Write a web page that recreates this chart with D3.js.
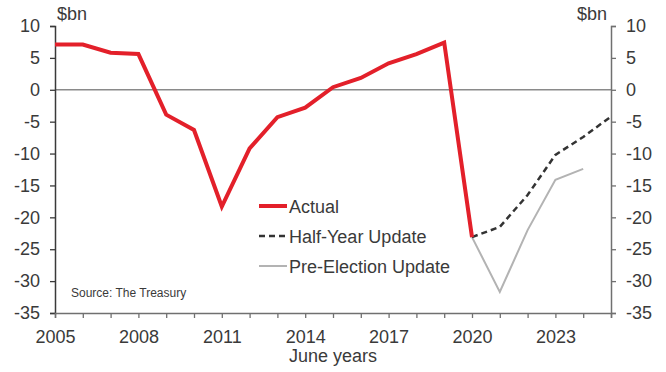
<!DOCTYPE html>
<html><head><meta charset="utf-8">
<script src="https://cdn.jsdelivr.net/npm/d3@7"></script>
<style>body{margin:0;background:#fff}svg{display:block}text{font-family:"Liberation Sans",Arial,sans-serif;fill:#3a3a3a}</style>
</head><body><svg id="c" width="666" height="372"></svg>
<script>
const actualYears = [2005,2006,2007,2008,2009,2010,2011,2012,2013,2014,2015,2016,2017,2018,2019,2020];
const actualValues = [7.1,7.1,5.8,5.6,-3.9,-6.3,-18.3,-9.2,-4.3,-2.8,0.4,1.85,4.15,5.6,7.4,-23.1];
const halfYearYears = [2020,2021,2022,2023,2024,2025];
const halfYearValues = [-23.1,-21.5,-16.5,-10.2,-7.4,-4.2];
const preElectionYears = [2020,2021,2022,2023,2024];
const preElectionValues = [-23.1,-31.7,-22.0,-14.1,-12.4];
const xTickLabels = [2005,2008,2011,2014,2017,2020,2023];
const yTicks = [10,5,0,-5,-10,-15,-20,-25,-30,-35];
const legendLabels = ["Actual","Half-Year Update","Pre-Election Update"];

const svg = d3.select("#c");
const L = 55, R = 611, T = 26, B = 313;
const x = d3.scaleLinear().domain([2005,2025]).range([L,R]);
const y = d3.scaleLinear().domain([-35,10]).range([B,T]);

// zero line
svg.append("line").attr("x1",L).attr("x2",R).attr("y1",y(0)).attr("y2",y(0))
  .attr("stroke","#8a8a8a").attr("stroke-width",1.5);

// axes
const fmt = d => String(d);
const leftAx = svg.append("g").attr("transform",`translate(${L},0)`)
  .call(d3.axisLeft(y).tickValues(yTicks).tickSize(5).tickPadding(10).tickFormat(fmt));
const rightAx = svg.append("g").attr("transform",`translate(${R},0)`)
  .call(d3.axisRight(y).tickValues(yTicks).tickSize(5).tickPadding(10).tickFormat(fmt));
const bottomAx = svg.append("g").attr("transform",`translate(0,${B})`)
  .call(d3.axisBottom(x).tickValues(d3.range(2005,2026)).tickSize(5).tickPadding(12)
    .tickFormat(d => xTickLabels.includes(d) ? String(d) : ""));
[leftAx,rightAx,bottomAx].forEach(g=>{
  g.select(".domain").attr("stroke","#707070").attr("stroke-width",1.5);
  g.selectAll(".tick line").attr("stroke","#707070").attr("stroke-width",1.3);
  g.selectAll(".tick text").style("font-size","18px").attr("fill","#3a3a3a");
});
leftAx.select(".domain").attr("stroke","#3a3a3a");
leftAx.selectAll(".tick line").attr("stroke","#3a3a3a");

// unit labels
svg.append("text").attr("x",57).attr("y",20).style("font-size","18px").text("$bn");
svg.append("text").attr("x",607).attr("y",20).attr("text-anchor","end").style("font-size","18px").text("$bn");
svg.append("text").attr("x",(L+R)/2).attr("y",362).attr("text-anchor","middle").style("font-size","18px").text("June years");
svg.append("text").attr("x",71).attr("y",297).style("font-size","12px").text("Source: The Treasury");

const line = d3.line().x(d=>x(d[0])).y(d=>y(d[1]));
const pre = preElectionYears.map((yr,i)=>[yr,preElectionValues[i]]);
const half = halfYearYears.map((yr,i)=>[yr,halfYearValues[i]]);
const act = actualYears.map((yr,i)=>[yr,actualValues[i]]);
svg.append("path").attr("d",line(pre)).attr("fill","none").attr("stroke","#b3b3b3").attr("stroke-width",2);
svg.append("path").attr("d",line(half)).attr("fill","none").attr("stroke","#333").attr("stroke-width",2.5).attr("stroke-dasharray","6,4");
svg.append("path").attr("d",line(act)).attr("fill","none").attr("stroke","#e3202a").attr("stroke-width",4).attr("stroke-linejoin","miter");

// legend
const legY = [206,236,266];
const styles = [{c:"#e3202a",w:4,d:null},{c:"#333",w:2.5,d:"6,4"},{c:"#b3b3b3",w:2,d:null}];
legendLabels.forEach((lab,i)=>{
  const s = styles[i];
  const l = svg.append("line").attr("x1",259).attr("x2",287).attr("y1",legY[i]).attr("y2",legY[i])
    .attr("stroke",s.c).attr("stroke-width",s.w);
  if(s.d) l.attr("stroke-dasharray",s.d);
  svg.append("text").attr("x",289).attr("y",legY[i]+6.5).style("font-size","18px").text(lab);
});
</script></body></html>
